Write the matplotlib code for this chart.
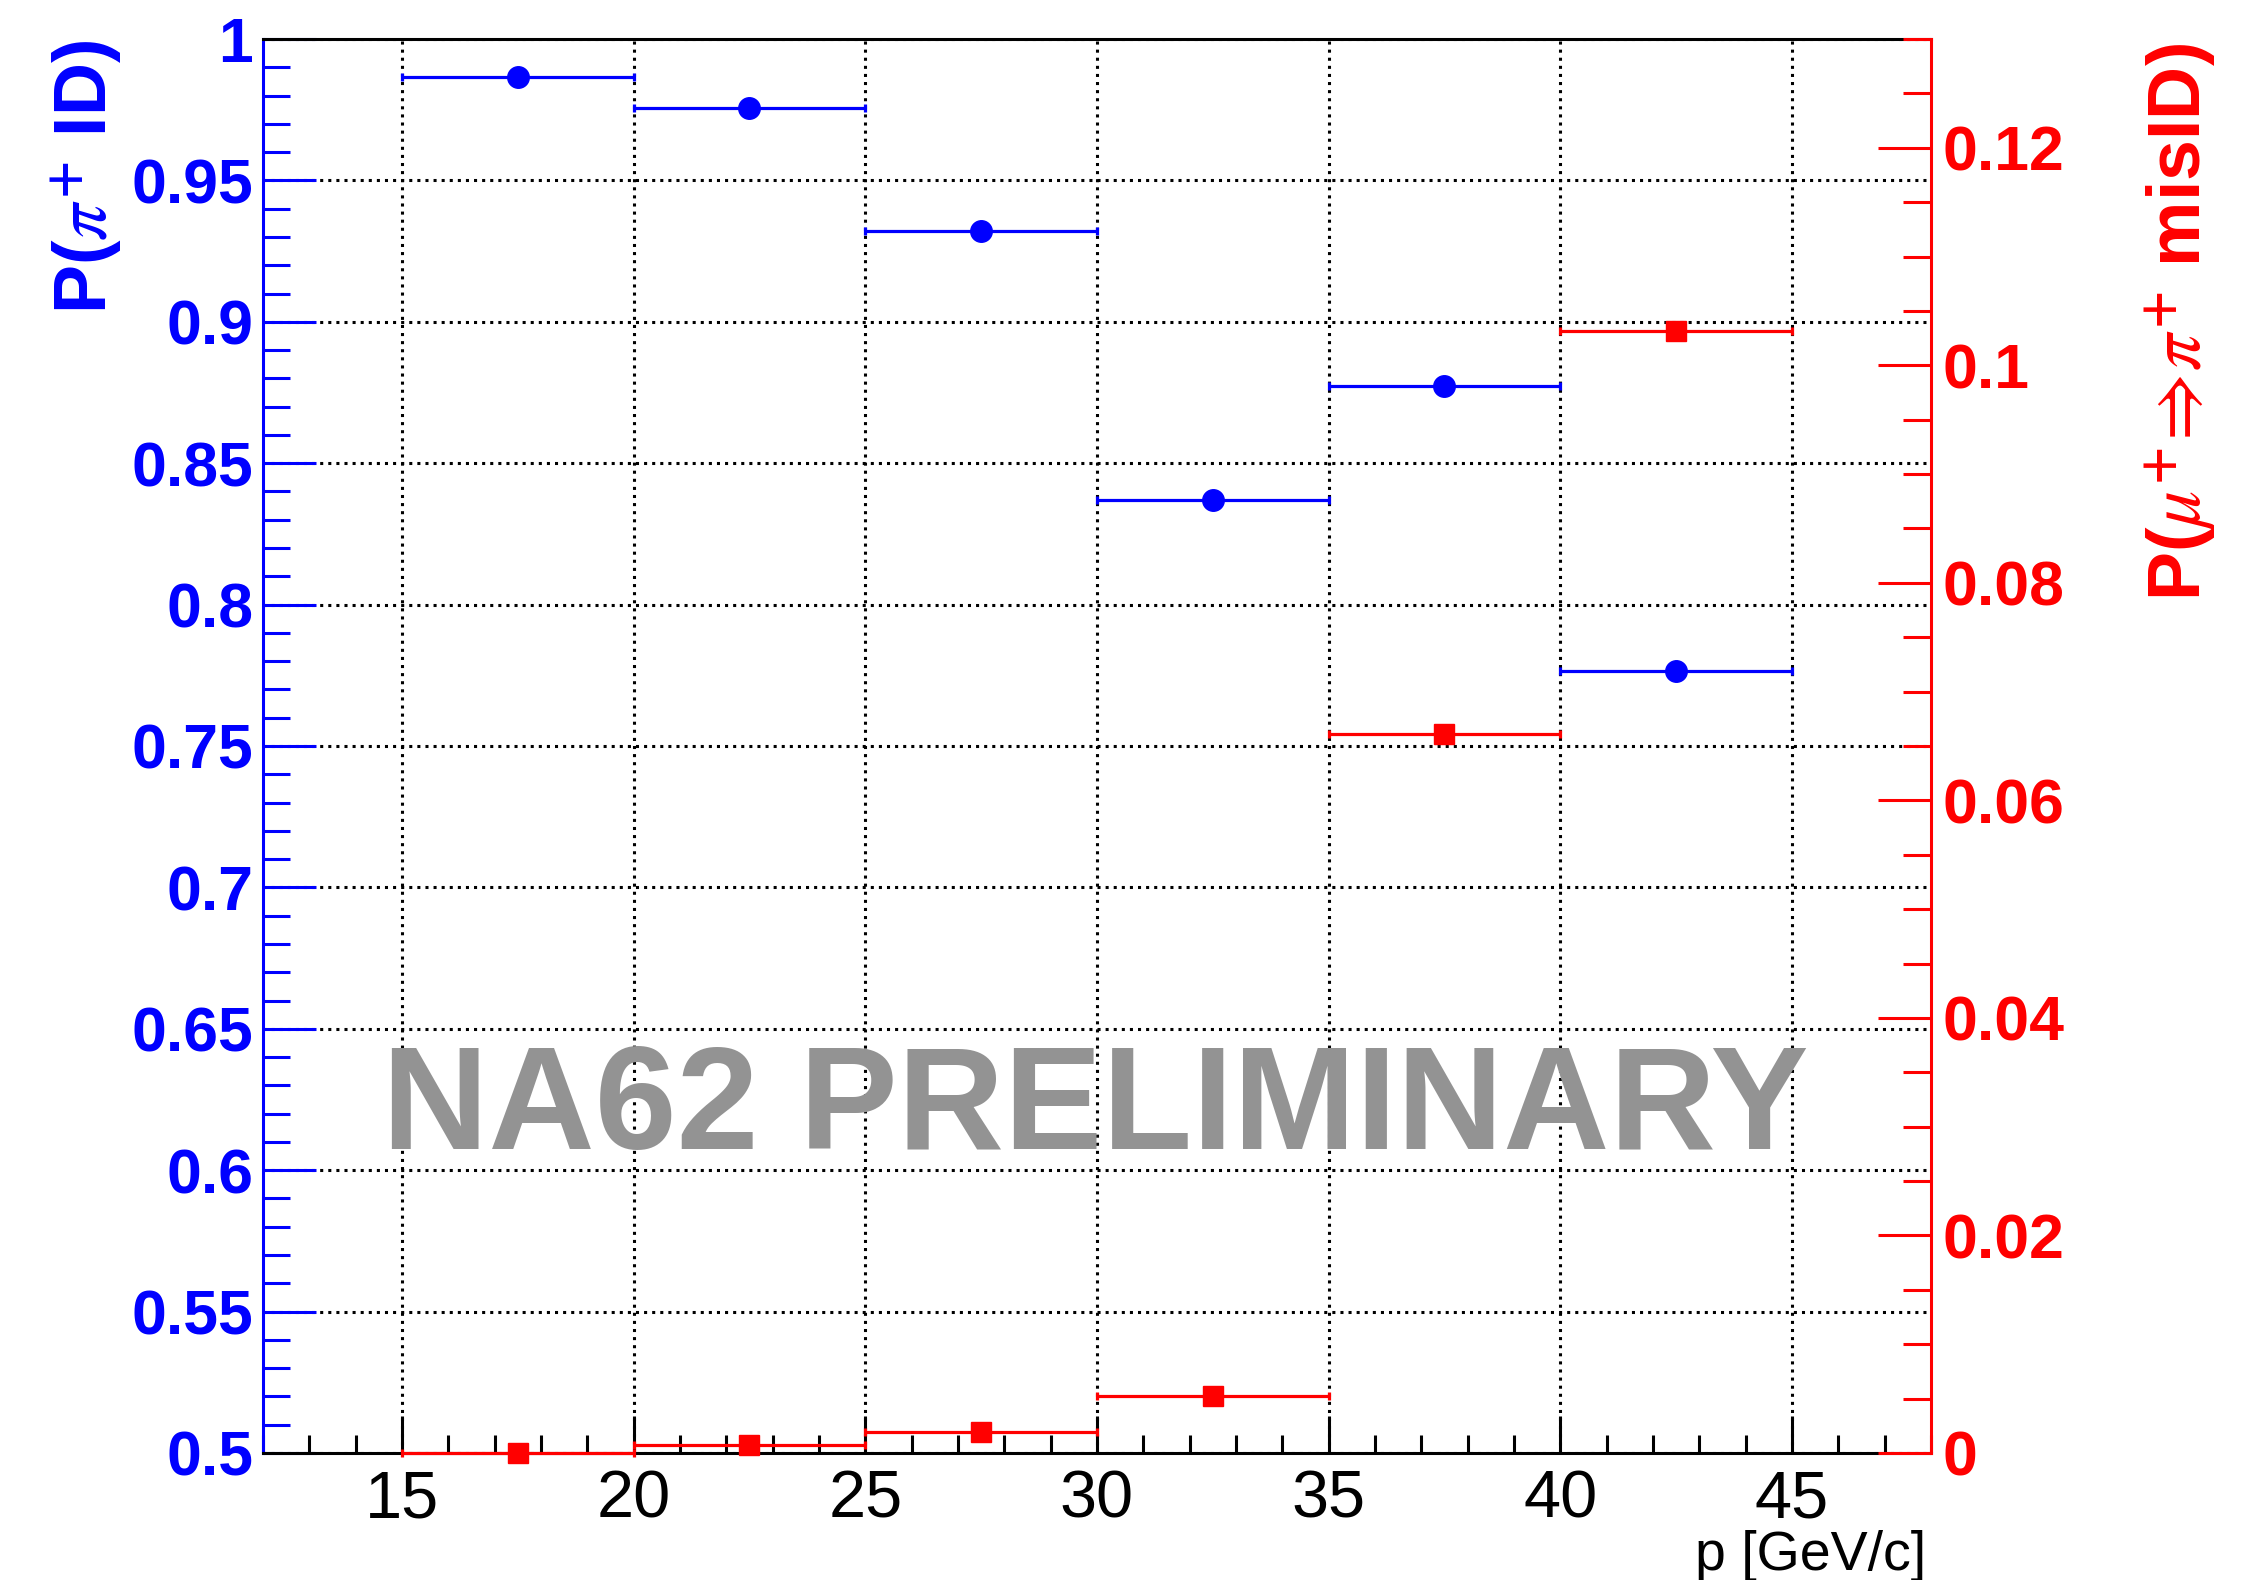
import matplotlib
matplotlib.use("Agg")
import matplotlib.pyplot as plt
from matplotlib.ticker import MultipleLocator, FuncFormatter

# momentum bins [GeV/c]
bin_lo = [15, 20, 25, 30, 35, 40]
bin_hi = [20, 25, 30, 35, 40, 45]

# pion identification efficiency (left axis)
p_pi_id = [0.9866, 0.9756, 0.9321, 0.8370, 0.8773, 0.7765]

# muon -> pion mis-identification probability (right axis)
p_mu_misid = [0.0, 0.00077, 0.0019, 0.0052, 0.0661, 0.1032]

BLUE = "#0000ff"
RED = "#ff0000"

plt.rcParams["font.family"] = ["Liberation Sans", "DejaVu Sans"]
plt.rcParams["mathtext.fontset"] = "stix"

fig = plt.figure(figsize=(22.65, 15.80), dpi=100)
ax = fig.add_axes([0.1161, 0.0804, 0.7364, 0.8949])
ax2 = ax.twinx()

centers = [(a + b) / 2 for a, b in zip(bin_lo, bin_hi)]
half = [(b - a) / 2 for a, b in zip(bin_lo, bin_hi)]

eb = ax.errorbar(centers, p_pi_id, xerr=half, fmt="none", ecolor=BLUE,
                 elinewidth=2.3, capsize=2.9, capthick=2.3, zorder=3)
for art in eb.get_children():
    art.set_clip_on(False)
ax.plot(centers, p_pi_id, ls="none", marker="o", markersize=15.5,
        color=BLUE, zorder=4, clip_on=False)

eb2 = ax2.errorbar(centers, p_mu_misid, xerr=half, fmt="none", ecolor=RED,
                   elinewidth=2.3, capsize=2.9, capthick=2.3, zorder=3)
for art in eb2.get_children():
    art.set_clip_on(False)
ax2.plot(centers, p_mu_misid, ls="none", marker="s", markersize=14.5,
         color=RED, zorder=4, clip_on=False)

# axes ranges
ax.set_xlim(12, 48)
ax.set_ylim(0.5, 1.0)
ax2.set_ylim(0, 0.13)

fmt = FuncFormatter(lambda v, _: f"{round(v, 6):g}")

ax.xaxis.set_major_locator(MultipleLocator(5))
ax.xaxis.set_minor_locator(MultipleLocator(1))
ax.yaxis.set_major_locator(MultipleLocator(0.05))
ax.yaxis.set_minor_locator(MultipleLocator(0.01))
ax.yaxis.set_major_formatter(fmt)
ax2.yaxis.set_major_locator(MultipleLocator(0.02))
ax2.yaxis.set_minor_locator(MultipleLocator(0.005))
ax2.yaxis.set_major_formatter(fmt)

ax.grid(True, which="major", color="black", ls=":", lw=2.2)

# spines
for sp in ax.spines.values():
    sp.set_linewidth(2.2)
ax.spines["left"].set_color(BLUE)
ax.spines["bottom"].set_color("black")
ax.spines["top"].set_color("black")
ax.spines["right"].set_visible(False)
for name in ["left", "top", "bottom"]:
    ax2.spines[name].set_visible(False)
ax2.spines["right"].set_color(RED)
ax2.spines["right"].set_linewidth(2.2)

# ticks
ax.tick_params(axis="x", which="major", direction="in", length=27, width=2.2,
               colors="black", labelsize=48, pad=12, top=False)
ax.tick_params(axis="x", which="minor", direction="in", length=13, width=2.2,
               colors="black", top=False)
ax.tick_params(axis="y", which="major", direction="in", length=38, width=2.2,
               colors=BLUE, labelsize=45, pad=7, right=False)
ax.tick_params(axis="y", which="minor", direction="in", length=19.5, width=2.2,
               colors=BLUE, right=False)
ax2.tick_params(axis="y", which="major", direction="in", length=38, width=2.2,
                colors=RED, labelsize=45, pad=8)
ax2.tick_params(axis="y", which="minor", direction="in", length=20, width=2.2,
                colors=RED)
for lbl in ax.get_yticklabels() + ax2.get_yticklabels():
    lbl.set_fontweight("bold")

# axis titles
fig.text(0.0385, 0.9747, r"P($\pi^{\mathbf{+}}$ ID)", rotation=90,
         ha="center", va="top", fontsize=53, fontweight="bold", color=BLUE)
fig.text(0.963, 0.9728, r"P($\mu^{\mathbf{+}}\!\Rightarrow\!\pi^{\mathbf{+}}$ misID)",
         rotation=90, ha="center", va="top", fontsize=53, fontweight="bold",
         color=RED)
fig.text(1926 / 2265, 1 - 1570 / 1580, "p [GeV/c]", ha="right", va="baseline",
         fontsize=40, color="black")

# watermark
fig.text(382 / 2265, 1 - 1149 / 1580, "NA62 PRELIMINARY", ha="left",
         va="baseline", fontsize=106, fontweight="bold", color="#939393",
         zorder=5)

fig.savefig("out.png", dpi=100)
